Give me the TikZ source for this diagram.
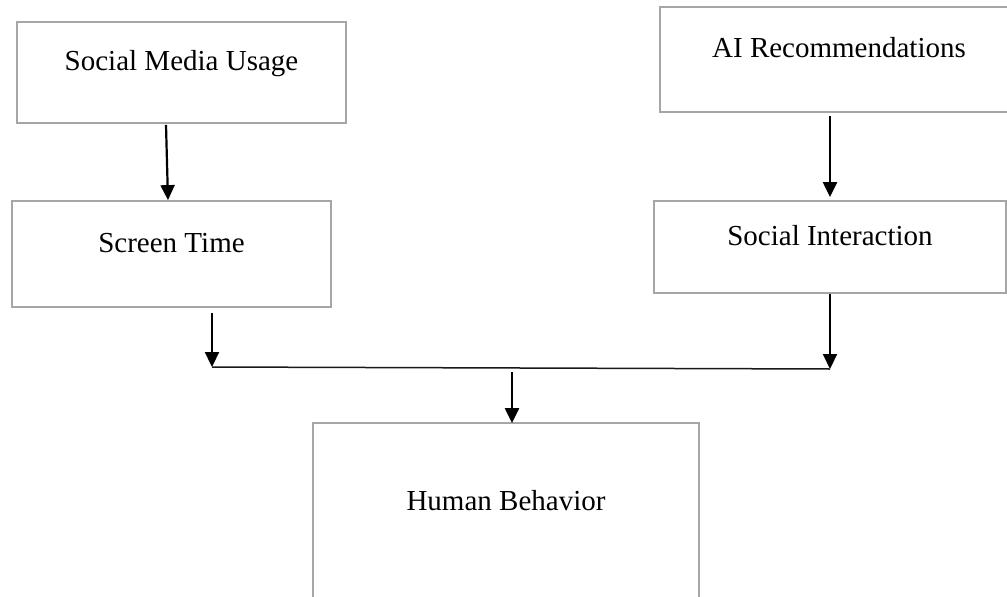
\documentclass[tikz,border=0pt]{standalone}
\usepackage{fontspec}
\setmainfont{Liberation Serif}
\usetikzlibrary{arrows.meta,calc}
\definecolor{boxgray}{RGB}{166,166,166}
\begin{document}
\begin{tikzpicture}[x=1pt,y=-1pt,
  box/.style={draw=boxgray, line width=1.8pt, rectangle, inner sep=0pt,
    font=\fontsize{29}{34}\selectfont, text height=20pt, text depth=24pt},
  arr/.style={-{Triangle[width=14pt,length=15pt]}, line width=2.2pt, black},
  joinline/.style={line width=1.5pt, black!90}
]
\useasboundingbox (0,0) rectangle (1007,597);
\clip (0,0) rectangle (1007,597);
\node[box, minimum width=329pt, minimum height=101pt, text depth=25pt] (smu) at (181.5,72.5) {Social Media Usage};
\node[box, minimum width=319pt, minimum height=106pt] (st) at (171.5,254) {Screen Time};
\node[box, minimum width=358pt, minimum height=105pt, text depth=25pt] (ai) at (839,59.5) {AI Recommendations};
\node[box, minimum width=352pt, minimum height=92pt] (si) at (830,247) {Social Interaction};
\node[box, minimum width=386pt, minimum height=180pt, text depth=26pt] (hb) at (506,513) {Human Behavior};
\coordinate (jl) at (212,367);
\coordinate (jr) at (830,369);
\coordinate (jm) at (512,372);
\draw[arr] ($(smu.south)+(-15.5,1)$) -- ($(st.north)+(-3.5,0)$);
\draw[arr] ($(ai.south)+(-9,3)$) -- ($(si.north)+(0,-3)$);
\draw[arr] ($(st.south)+(40.5,5)$) -- (jl);
\draw[arr] (si.south) -- (jr);
\draw[joinline] (jl) -- (jr);
\draw[arr] (jm) -- ($(hb.north)+(6,1)$);
\end{tikzpicture}
\end{document}
